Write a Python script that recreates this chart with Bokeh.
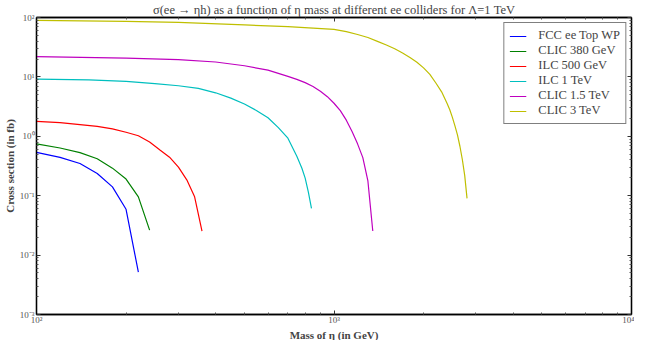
from bokeh.plotting import figure
from bokeh.models import (Range1d, FixedTicker, LogAxis, Legend, LegendItem,
                          Title, CustomJSTickFormatter)
from bokeh.embed import file_html
from bokeh.resources import INLINE

# ---- data ----
mass_fcc = [100, 120, 140, 160, 180, 200, 220]
xs_fcc = [0.538, 0.443, 0.348, 0.237, 0.141, 0.0591, 0.00515]

mass_clic380 = [100, 120, 140, 160, 180, 200, 220, 240]
xs_clic380 = [0.746, 0.635, 0.531, 0.418, 0.291, 0.1905, 0.0957, 0.0263]

mass_ilc500 = [100, 120, 140, 160, 180, 200, 220, 240, 260, 280, 300, 320, 340, 360]
xs_ilc500 = [1.78, 1.70, 1.57, 1.47, 1.33, 1.17, 1.02, 0.80, 0.589, 0.445, 0.302, 0.185, 0.0957, 0.0254]

mass_ilc1000 = [100, 150, 200, 250, 300, 350, 400, 450, 500, 550, 600, 650, 700, 750, 780, 800, 820, 840]
xs_ilc1000 = [9.17, 8.9, 8.4, 7.7, 7.1, 6.4, 5.4, 4.4, 3.5, 2.7, 2.05, 1.4, 0.93, 0.46, 0.29, 0.198, 0.115, 0.0614]

mass_clic1500 = [100, 200, 300, 400, 500, 600, 700, 750, 800, 850, 900, 950, 1000, 1050, 1100, 1150, 1200, 1250, 1300, 1350]
xs_clic1500 = [21.9, 20.7, 19.6, 17.8, 15.4, 13.0, 10.2, 9.1, 8.0, 6.9, 5.73, 4.65, 3.6, 2.7, 1.87, 1.2, 0.746, 0.438, 0.177, 0.0255]

mass_clic3000 = [100, 200, 300, 500, 700, 1000, 1100, 1200, 1300, 1400, 1500, 1600, 1700, 1800, 1900, 2000, 2100, 2200, 2300, 2400, 2450, 2500, 2550, 2600, 2650, 2700, 2750, 2800]
xs_clic3000 = [89.7, 86.0, 82.5, 75.0, 70.0, 63.0, 57.8, 51.7, 46.0, 39.7, 34.5, 29.7, 25.3, 21.2, 17.6, 14.2, 11.0, 7.9, 5.6, 3.57, 2.8, 2.08, 1.5, 1.06, 0.68, 0.407, 0.22, 0.09]

labels = ["FCC ee Top WP", "CLIC 380 GeV", "ILC 500 GeV", "ILC 1 TeV", "CLIC 1.5 TeV", "CLIC 3 TeV"]
colors = ["#0000ff", "#008000", "#ff0000", "#00bfbf", "#bf00bf", "#bfbf00"]
masses = [mass_fcc, mass_clic380, mass_ilc500, mass_ilc1000, mass_clic1500, mass_clic3000]
values = [xs_fcc, xs_clic380, xs_ilc500, xs_ilc1000, xs_clic1500, xs_clic3000]

x_major = [100, 1000, 10000]
y_major = [1e-3, 1e-2, 1e-1, 1, 10, 100]
x_minor = [k * 10.0 ** e for e in range(2, 4) for k in range(2, 10)]
y_minor = [k * 10.0 ** e for e in range(-3, 2) for k in range(2, 10)]

title_text = "\u03c3(ee \u2192 \u03b7h) as a function of \u03b7 mass at different ee colliders for \u039b=1 TeV"
x_label = "Mass of \u03b7 (in GeV)"
y_label = "Cross section (in fb)"

SERIF = "Liberation Serif"

fmt_code = """
const sup = {'-':'\u207b','0':'\u2070','1':'\u00b9','2':'\u00b2','3':'\u00b3','4':'\u2074'};
const e = Math.round(Math.log10(tick));
return '10' + String(e).split('').map(c => sup[c]).join('');
"""

p = figure(width=634, height=340, x_axis_type="log", y_axis_type="log",
           x_range=Range1d(100, 10000), y_range=Range1d(1e-3, 100),
           output_backend="svg", toolbar_location=None,
           min_border=0, min_border_top=0, min_border_right=3, min_border_left=0,
           min_border_bottom=0)
p.grid.visible = False
p.outline_line_color = "black"
p.outline_line_width = 1.3

p.title.text = title_text
p.title.align = "center"
p.title.text_font = SERIF
p.title.text_font_style = "normal"
p.title.text_font_size = "12.5px"
p.title.standoff = 1
p.title.offset = 0

xt = FixedTicker(ticks=x_major, minor_ticks=x_minor)
yt = FixedTicker(ticks=y_major, minor_ticks=y_minor)

def style_axis(ax, show_labels):
    ax.major_tick_in = 4
    ax.major_tick_out = 0
    ax.minor_tick_in = 2
    ax.minor_tick_out = 0
    ax.axis_line_color = "black"
    ax.axis_line_width = 1.3
    ax.major_tick_line_color = "#333333"
    ax.minor_tick_line_color = "#555555"
    if show_labels:
        ax.formatter = CustomJSTickFormatter(code=fmt_code)
        ax.major_label_text_font = SERIF
        ax.major_label_text_font_size = "9px"
        ax.major_label_text_color = "#555555"
        ax.major_label_standoff = 0
        ax.axis_label_text_font = SERIF
        ax.axis_label_text_font_style = "bold"
        ax.axis_label_text_font_size = "11px"
        ax.axis_label_standoff = 1
    else:
        ax.formatter = CustomJSTickFormatter(code="return '';")
        ax.major_label_text_font_size = "0px"
        ax.major_label_standoff = 0

p.xaxis.ticker = xt
p.yaxis.ticker = yt
style_axis(p.xaxis[0], True)
style_axis(p.yaxis[0], True)
p.yaxis.axis_label = y_label
p.yaxis.major_label_standoff = 2

rax = LogAxis(ticker=yt)
style_axis(rax, False)
p.add_layout(rax, "right")
tax = LogAxis(ticker=xt)
style_axis(tax, False)
p.add_layout(tax, "above")

xtitle = Title(text=x_label, align="center", text_font=SERIF, text_font_style="bold",
               text_font_size="11px", standoff=-1, offset=0)
p.add_layout(xtitle, "below")

items = []
for lab, m, v, c in zip(labels, masses, values, colors):
    r = p.line(m, v, line_color=c, line_width=1.2)
    items.append(LegendItem(label=lab, renderers=[r]))

legend = Legend(items=items, location="top_right")
legend.border_line_color = "black"
legend.border_line_width = 1.2
legend.label_text_font = SERIF
legend.label_text_font_size = "12.5px"
legend.glyph_width = 17
legend.glyph_height = 12
legend.label_height = 12
legend.spacing = 0
legend.padding = 5
legend.margin = 5
legend.label_standoff = 12
legend.background_fill_alpha = 1
p.add_layout(legend)

open("out.html", "w").write(file_html(p, INLINE))
